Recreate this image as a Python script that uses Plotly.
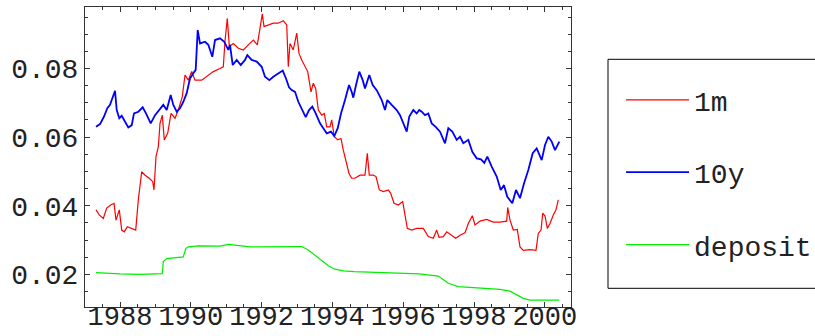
import plotly.graph_objects as go

# ---- data (decimal years, rates) ----
years_1m = [1987.322, 1987.415, 1987.528, 1987.624, 1987.737, 1987.831, 1987.887, 1987.980,
            1988.048, 1988.121, 1988.206, 1988.331, 1988.444, 1988.517, 1988.613, 1988.706,
            1988.828, 1988.924, 1988.960, 1989.017, 1989.082, 1989.130, 1989.195, 1989.251,
            1989.347, 1989.441, 1989.554, 1989.647, 1989.760, 1989.836, 1989.929, 1990.025,
            1990.119, 1990.308, 1990.449, 1990.636, 1990.825, 1990.918, 1990.966, 1991.031,
            1991.088, 1991.201, 1991.342, 1991.483, 1991.624, 1991.766, 1991.879, 1991.955,
            1992.020, 1992.068, 1992.189, 1992.331, 1992.472, 1992.613, 1992.709, 1992.754,
            1992.802, 1992.895, 1992.992, 1993.056, 1993.133, 1993.226, 1993.302, 1993.395,
            1993.460, 1993.528, 1993.602, 1993.698, 1993.771, 1993.839, 1993.932, 1993.980,
            1994.054, 1994.150, 1994.243, 1994.308, 1994.404, 1994.469, 1994.545, 1994.638,
            1994.780, 1994.921, 1994.986, 1995.042, 1995.155, 1995.232, 1995.325, 1995.438,
            1995.579, 1995.647, 1995.740, 1995.862, 1995.986, 1996.051, 1996.116, 1996.240,
            1996.381, 1996.568, 1996.709, 1996.850, 1996.946, 1997.011, 1997.133, 1997.229,
            1997.370, 1997.483, 1997.605, 1997.746, 1997.839, 1997.952, 1998.028, 1998.169,
            1998.359, 1998.545, 1998.734, 1998.924, 1998.952, 1999.017, 1999.110, 1999.223,
            1999.299, 1999.393, 1999.582, 1999.751, 1999.816, 1999.893, 1999.941, 2000.006,
            2000.071, 2000.147, 2000.240, 2000.316, 2000.381]
rate_1m = [0.0388, 0.0373, 0.0363, 0.0393, 0.0402, 0.0407, 0.0358, 0.0388,
           0.0329, 0.0324, 0.0339, 0.0334, 0.0329, 0.0417, 0.0499, 0.0489,
           0.0480, 0.0470, 0.0446, 0.0543, 0.0572, 0.0640, 0.0664, 0.0592,
           0.0611, 0.0669, 0.0655, 0.0679, 0.0718, 0.0781, 0.0766, 0.0791,
           0.0766, 0.0766, 0.0776, 0.0791, 0.0800, 0.0805, 0.0880, 0.0946,
           0.0864, 0.0873, 0.0859, 0.0854, 0.0869, 0.0883, 0.0869, 0.0912,
           0.0959, 0.0922, 0.0927, 0.0932, 0.0932, 0.0939, 0.0927, 0.0805,
           0.0873, 0.0854, 0.0903, 0.0844, 0.0825, 0.0805, 0.0791, 0.0732,
           0.0757, 0.0742, 0.0679, 0.0664, 0.0669, 0.0630, 0.0630, 0.0650,
           0.0601, 0.0592, 0.0596, 0.0562, 0.0519, 0.0494, 0.0480, 0.0480,
           0.0489, 0.0489, 0.0553, 0.0489, 0.0489, 0.0485, 0.0446, 0.0441,
           0.0446, 0.0436, 0.0407, 0.0402, 0.0412, 0.0378, 0.0334, 0.0329,
           0.0334, 0.0334, 0.0310, 0.0305, 0.0329, 0.0308, 0.0310, 0.0324,
           0.0314, 0.0305, 0.0314, 0.0321, 0.0348, 0.0371, 0.0344, 0.0355,
           0.0360, 0.0352, 0.0352, 0.0355, 0.0395, 0.0358, 0.0329, 0.0331,
           0.0280, 0.0270, 0.0272, 0.0270, 0.0319, 0.0329, 0.0378, 0.0370,
           0.0334, 0.0348, 0.0373, 0.0388, 0.0417]

years_10y = [1987.322, 1987.435, 1987.548, 1987.641, 1987.718, 1987.794, 1987.859, 1987.907,
             1987.980, 1988.048, 1988.141, 1988.234, 1988.331, 1988.395, 1988.517, 1988.641,
             1988.734, 1988.867, 1988.989, 1989.130, 1989.223, 1989.319, 1989.432, 1989.506,
             1989.602, 1989.695, 1989.788, 1989.884, 1989.977, 1990.071, 1990.138, 1990.195,
             1990.260, 1990.401, 1990.494, 1990.607, 1990.684, 1990.825, 1990.946, 1991.059,
             1991.107, 1991.184, 1991.297, 1991.410, 1991.531, 1991.596, 1991.720, 1991.862,
             1992.003, 1992.096, 1992.218, 1992.331, 1992.472, 1992.596, 1992.689, 1992.774,
             1992.850, 1992.944, 1993.037, 1993.133, 1993.246, 1993.339, 1993.432, 1993.528,
             1993.650, 1993.743, 1993.839, 1993.960, 1994.054, 1994.150, 1994.243, 1994.356,
             1994.469, 1994.545, 1994.590, 1994.667, 1994.760, 1994.856, 1994.921, 1995.042,
             1995.138, 1995.251, 1995.393, 1995.486, 1995.551, 1995.675, 1995.816, 1995.910,
             1996.003, 1996.099, 1996.172, 1996.285, 1996.381, 1996.455, 1996.523, 1996.616,
             1996.709, 1996.805, 1996.918, 1997.040, 1997.181, 1997.274, 1997.387, 1997.511,
             1997.605, 1997.698, 1997.839, 1997.952, 1998.076, 1998.198, 1998.291, 1998.376,
             1998.500, 1998.641, 1998.754, 1998.847, 1998.941, 1999.082, 1999.186, 1999.299,
             1999.412, 1999.534, 1999.658, 1999.771, 1999.912, 2000.006, 2000.099, 2000.195,
             2000.288, 2000.410]
rate_10y = [0.0630, 0.0638, 0.0660, 0.0684, 0.0694, 0.0713, 0.0735, 0.0679,
            0.0655, 0.0662, 0.0645, 0.0628, 0.0635, 0.0669, 0.0674, 0.0687,
            0.0669, 0.0640, 0.0664, 0.0684, 0.0694, 0.0679, 0.0723, 0.0694,
            0.0674, 0.0684, 0.0703, 0.0728, 0.0771, 0.0786, 0.0796, 0.0912,
            0.0873, 0.0878, 0.0869, 0.0834, 0.0883, 0.0888, 0.0878, 0.0854,
            0.0869, 0.0810, 0.0825, 0.0810, 0.0825, 0.0839, 0.0825, 0.0820,
            0.0805, 0.0776, 0.0766, 0.0776, 0.0786, 0.0794, 0.0771, 0.0745,
            0.0737, 0.0732, 0.0703, 0.0684, 0.0658, 0.0679, 0.0689, 0.0669,
            0.0640, 0.0626, 0.0611, 0.0616, 0.0603, 0.0626, 0.0669, 0.0708,
            0.0752, 0.0732, 0.0715, 0.0752, 0.0791, 0.0766, 0.0742, 0.0781,
            0.0752, 0.0737, 0.0708, 0.0679, 0.0708, 0.0694, 0.0679, 0.0664,
            0.0640, 0.0616, 0.0660, 0.0679, 0.0669, 0.0679, 0.0674, 0.0664,
            0.0669, 0.0640, 0.0630, 0.0616, 0.0582, 0.0626, 0.0616, 0.0592,
            0.0601, 0.0582, 0.0592, 0.0557, 0.0538, 0.0535, 0.0525, 0.0543,
            0.0514, 0.0485, 0.0446, 0.0460, 0.0426, 0.0407, 0.0446, 0.0422,
            0.0465, 0.0504, 0.0553, 0.0567, 0.0533, 0.0577, 0.0601, 0.0587,
            0.0562, 0.0587]

years_dep = [1987.322, 1988.000, 1988.565, 1988.989, 1989.195, 1989.223, 1989.319, 1989.788,
             1989.856, 1989.929, 1990.212, 1990.825, 1991.059, 1991.672, 1992.331, 1992.802,
             1993.133, 1993.319, 1993.508, 1993.698, 1993.884, 1994.073, 1994.308, 1994.619,
             1995.438, 1996.455, 1996.992, 1997.133, 1997.274, 1997.556, 1998.291, 1998.734,
             1999.017, 1999.206, 1999.393, 1999.582, 2000.410]
rate_dep = [0.0205, 0.0201, 0.0200, 0.0201, 0.0202, 0.0237, 0.0246, 0.0251,
            0.0275, 0.0280, 0.0283, 0.0282, 0.0287, 0.0280, 0.0280, 0.0282,
            0.0281, 0.0271, 0.0256, 0.0242, 0.0225, 0.0215, 0.0210, 0.0208,
            0.0205, 0.0201, 0.0195, 0.0185, 0.0174, 0.0164, 0.0160, 0.0156,
            0.0151, 0.0141, 0.0130, 0.0125, 0.0125]

series_names = ["1m", "10y", "deposit"]
x_ticks = [1988, 1990, 1992, 1994, 1996, 1998, 2000]
y_ticks = [0.02, 0.04, 0.06, 0.08]

MONO = "Liberation Mono, Courier New, monospace"

fig = go.Figure()
fig.add_trace(go.Scatter(x=years_1m, y=rate_1m, mode="lines", name=series_names[0],
                         line=dict(color="#ff0000", width=1.2), legendgroup="a"))
fig.add_trace(go.Scatter(x=years_10y, y=rate_10y, mode="lines", name=series_names[1],
                         line=dict(color="#0000ff", width=1.8), legendgroup="b"))
fig.add_trace(go.Scatter(x=years_dep, y=rate_dep, mode="lines", name=series_names[2],
                         line=dict(color="#00ee00", width=1.2), legendgroup="c"))

axis_common = dict(showline=True, linecolor="#333333", linewidth=1, mirror="allticks",
                   ticks="inside", ticklen=5, tickcolor="#333333", tickwidth=1,
                   showgrid=False, zeroline=False, automargin=False)

fig.update_layout(
    width=815, height=336,
    margin=dict(l=85, r=244, t=7, b=29, autoexpand=False),
    paper_bgcolor="white", plot_bgcolor="white",
    xaxis=dict(range=[1987.011, 2000.740], tickvals=x_ticks, ticktext=[str(v) for v in x_ticks],
               minor=dict(dtick=0.5, tick0=1988, ticks="inside", ticklen=3, tickcolor="#333333"),
               ticklabelstandoff=-15,
               tickfont=dict(family=MONO, size=27, color="#222222"),
               **axis_common),
    yaxis=dict(range=[0.01047, 0.09793], tickvals=y_ticks, ticktext=["%.2f" % v for v in y_ticks],
               minor=dict(dtick=0.005, tick0=0.02, ticks="inside", ticklen=3, tickcolor="#333333"),
               tickfont=dict(family=MONO, size=28, color="#222222"),
               **axis_common),
    showlegend=True,
    legend=dict(x=1.103, y=0.773, xanchor="left", yanchor="top",
                borderwidth=0, bgcolor="rgba(0,0,0,0)",
                font=dict(family=MONO, size=28, color="#222222"),
                tracegroupgap=33, traceorder="grouped", itemwidth=63),
    shapes=[dict(type="rect", xref="paper", yref="paper",
                 x0=(608 - 85) / 486, x1=(830 - 85) / 486,
                 y0=(307 - 288.3) / 300, y1=(307 - 59.3) / 300,
                 line=dict(color="black", width=1), fillcolor="rgba(0,0,0,0)")],
)

fig.write_html("out.html", config={"displayModeBar": False},
               post_script="document.body.style.margin='0';document.body.style.overflow='hidden';")
